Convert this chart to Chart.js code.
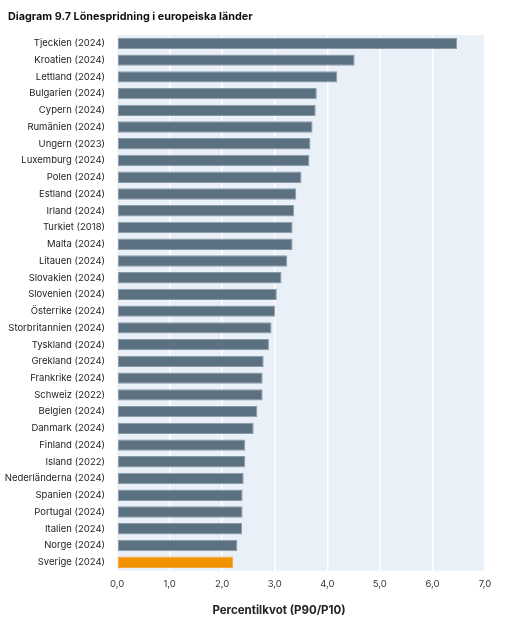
<!DOCTYPE html>
<html>
<head>
<meta charset="utf-8">
<script src="https://cdn.jsdelivr.net/npm/chart.js@4"></script>
<style>
  html, body { margin: 0; padding: 0; background: #fff; }
  #wrap { width: 507px; height: 625px; position: relative; }
</style>
</head>
<body>
<div id="wrap"><canvas id="spreadChart"></canvas></div>
<script>
// Countries (with survey year), top to bottom
const countries = [
    'Tjeckien (2024)', 'Kroatien (2024)', 'Lettland (2024)', 'Bulgarien (2024)',
    'Cypern (2024)', 'Rumänien (2024)', 'Ungern (2023)', 'Luxemburg (2024)',
    'Polen (2024)', 'Estland (2024)', 'Irland (2024)', 'Turkiet (2018)',
    'Malta (2024)', 'Litauen (2024)', 'Slovakien (2024)', 'Slovenien (2024)',
    'Österrike (2024)', 'Storbritannien (2024)', 'Tyskland (2024)', 'Grekland (2024)',
    'Frankrike (2024)', 'Schweiz (2022)', 'Belgien (2024)', 'Danmark (2024)',
    'Finland (2024)', 'Island (2022)', 'Nederländerna (2024)', 'Spanien (2024)',
    'Portugal (2024)', 'Italien (2024)', 'Norge (2024)', 'Sverige (2024)'
];

// P90/P10 ratio
const ratios = [
    6.47, 4.52, 4.19, 3.80,
    3.78, 3.72, 3.68, 3.66,
    3.51, 3.41, 3.37, 3.34,
    3.34, 3.24, 3.13, 3.04,
    3.01, 2.94, 2.89, 2.79,
    2.77, 2.77, 2.67, 2.60,
    2.44, 2.44, 2.41, 2.39,
    2.39, 2.38, 2.29, 2.21
];

const xTicks = [0, 1, 2, 3, 4, 5, 6, 7];

const highlight = 'Sverige (2024)';
const chartTitle = 'Diagram 9.7 Lönespridning i europeiska länder';
const axisTitle = 'Percentilkvot (P90/P10)';

document.addEventListener('DOMContentLoaded', function() {
    const ctx = document.getElementById('spreadChart').getContext('2d');

    // paints the light blue plot background behind the grid
    const plotBackground = {
        id: 'plotBackground',
        beforeDraw(chart) {
            const a = chart.chartArea;
            const c = chart.ctx;
            c.save();
            c.fillStyle = '#eaf0f7';
            c.fillRect(a.left, a.top, a.right - a.left, a.bottom - a.top);
            c.restore();
        }
    };

    // heading and axis title, placed like in the original figure
    const titles = {
        id: 'titles',
        afterDraw(chart) {
            const c = chart.ctx;
            c.save();
            c.fillStyle = '#111';
            c.textBaseline = 'middle';
            c.font = 'bold 10.8px Inter';
            c.textAlign = 'left';
            c.fillText(chartTitle, 8, 17);
            c.fillStyle = '#222';
            c.font = 'bold 11.5px Inter';
            c.textAlign = 'center';
            c.fillText(axisTitle, 279, 611);
            c.restore();
        }
    };

    new Chart(ctx, {
        type: 'bar',
        data: {
            labels: countries,
            datasets: [{
                data: ratios,
                backgroundColor: countries.map(c => c === highlight ? '#f39200' : '#5b7080'),
                borderColor: countries.map(c => c === highlight ? '#f5a83a' : '#8a9ba8'),
                borderWidth: 1,
                borderSkipped: false,
                barPercentage: 0.68,
                categoryPercentage: 1.0
            }]
        },
        options: {
            indexAxis: 'y',
            responsive: true,
            maintainAspectRatio: false,
            animation: false,
            layout: { padding: { left: 0, right: 22, top: 35, bottom: 27 } },
            plugins: {
                legend: { display: false },
                tooltip: { enabled: false },
                title: { display: false }
            },
            scales: {
                x: {
                    min: 0,
                    max: 7,
                    afterBuildTicks(scale) {
                        scale.ticks = xTicks.map(v => ({ value: v }));
                    },
                    grid: { color: '#ffffff', lineWidth: 1.5, drawTicks: false },
                    border: { display: false },
                    ticks: {
                        padding: 8,
                        color: '#333',
                        font: { family: 'Inter', size: 9.5 },
                        callback: v => v.toFixed(1).replace('.', ',')
                    }
                },
                y: {
                    grid: { display: false, drawTicks: false },
                    border: { display: false },
                    ticks: {
                        padding: 12,
                        color: '#222',
                        autoSkip: false,
                        font: { family: 'Inter', size: 9.5 }
                    },
                    afterFit(scale) {
                        scale.width = 117;
                    }
                }
            }
        },
        plugins: [plotBackground, titles]
    });
});
</script>
</body>
</html>
